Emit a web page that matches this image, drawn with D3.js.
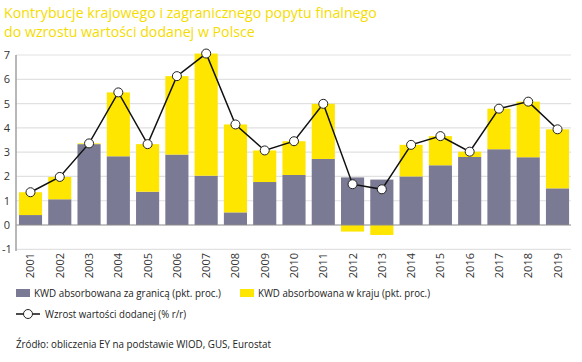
<!DOCTYPE html>
<html>
<head>
<meta charset="utf-8">
<script src="https://cdn.jsdelivr.net/npm/d3@7"></script>
<style>
  body { margin: 0; background: #fff; }
  text { font-family: "Open Sans", sans-serif; }
</style>
</head>
<body>
<script>
// data
var years = ["2001","2002","2003","2004","2005","2006","2007","2008","2009","2010",
             "2011","2012","2013","2014","2015","2016","2017","2018","2019"];
var foreign  = [0.41,1.06,3.33,2.83,1.37,2.90,2.03,0.52,1.77,2.06,2.72,1.96,1.87,2.00,2.46,2.80,3.12,2.79,1.51];
var domestic = [0.94,0.92,0.03,2.63,1.96,3.23,5.03,3.62,1.30,1.39,2.27,-0.27,-0.41,1.30,1.20,0.22,1.67,2.29,2.43];
var growth   = [1.35,1.98,3.36,5.46,3.33,6.13,7.06,4.14,3.07,3.45,4.99,1.68,1.47,3.30,3.66,3.02,4.79,5.08,3.94];
var yTicks = [-1,0,1,2,3,4,5,6,7];

var width = 582, height = 362;
var grey = "#7b7a94", yellow = "#ffe600";

var svg = d3.select("body").append("svg")
    .attr("width", width)
    .attr("height", height);

// helper: text squeezed/stretched to the width seen in the picture
function label(xp, yp, str, size, len, color){
    return svg.append("text").attr("x", xp).attr("y", yp)
        .attr("fill", color).style("font-size", size + "px")
        .attr("textLength", len).attr("lengthAdjust", "spacingAndGlyphs")
        .text(str);
}

// title
svg.append("text").attr("x", 4).attr("y", 18)
    .attr("fill", "#f5dc00").style("font-size", "14.2px")
    .text("Kontrybucje krajowego i zagranicznego popytu finalnego");
svg.append("text").attr("x", 4).attr("y", 37)
    .attr("fill", "#f5dc00").style("font-size", "14.2px")
    .text("do wzrostu wartości dodanej w Polsce");

var x = d3.scaleBand()
    .domain(years)
    .range([16, 572])
    .paddingInner(0.21)
    .paddingOuter(0.1);

var y = d3.scaleLinear()
    .domain([-1, 7])
    .range([249.3, 55]);

// gridlines
svg.append("g").selectAll("line")
    .data(yTicks.filter(function(d){ return d !== 0; }))
    .enter().append("line")
    .attr("x1", 16).attr("x2", 571)
    .attr("y1", function(d){ return y(d); })
    .attr("y2", function(d){ return y(d); })
    .attr("stroke", "#e1e1e1").attr("stroke-width", 1.2);

// y labels
svg.append("g").selectAll("text")
    .data(yTicks)
    .enter().append("text")
    .attr("x", 7)
    .attr("y", function(d){ return y(d) + 4; })
    .attr("text-anchor", "middle")
    .attr("fill", "#333").style("font-size", "11px")
    .text(function(d){ return d; });

// bars - foreign part
svg.append("g").selectAll("rect")
    .data(years)
    .enter().append("rect")
    .attr("x", function(d){ return x(d); })
    .attr("width", x.bandwidth())
    .attr("y", function(d, i){ return y(foreign[i]); })
    .attr("height", function(d, i){ return y(0) - y(foreign[i]); })
    .attr("fill", grey);

// bars - domestic part, stacked on top (or below zero if negative)
svg.append("g").selectAll("rect")
    .data(years)
    .enter().append("rect")
    .attr("x", function(d){ return x(d); })
    .attr("width", x.bandwidth())
    .attr("y", function(d, i){
        return domestic[i] >= 0 ? y(foreign[i] + domestic[i]) : y(0);
    })
    .attr("height", function(d, i){
        return domestic[i] >= 0 ? y(foreign[i]) - y(foreign[i] + domestic[i]) : y(domestic[i]) - y(0);
    })
    .attr("fill", yellow);

// zero line and left axis
svg.append("line")
    .attr("x1", 16).attr("x2", 571)
    .attr("y1", y(0)).attr("y2", y(0))
    .attr("stroke", "#8a8a8a").attr("stroke-width", 1.2);
svg.append("line")
    .attr("x1", 16).attr("x2", 16)
    .attr("y1", y(7)).attr("y2", 251)
    .attr("stroke", "#a0a0a0").attr("stroke-width", 1.5);

// x labels, rotated
svg.append("g").selectAll("text")
    .data(years)
    .enter().append("text")
    .attr("transform", function(d){
        return "translate(" + (x(d) + x.bandwidth()/2 + 4) + ",253) rotate(-90)";
    })
    .attr("text-anchor", "end")
    .attr("fill", "#333").style("font-size", "11px")
    .text(function(d){ return d; });

// growth line
var line = d3.line()
    .x(function(d, i){ return x(years[i]) + x.bandwidth()/2; })
    .y(function(d){ return y(d); });

svg.append("path")
    .datum(growth)
    .attr("d", line)
    .attr("fill", "none")
    .attr("stroke", "#111").attr("stroke-width", 1.5);

svg.append("g").selectAll("circle")
    .data(growth)
    .enter().append("circle")
    .attr("cx", function(d, i){ return x(years[i]) + x.bandwidth()/2; })
    .attr("cy", function(d){ return y(d); })
    .attr("r", 4.5)
    .attr("fill", "#fff")
    .attr("stroke", "#222").attr("stroke-width", 1);

// legend
svg.append("rect").attr("x", 16).attr("y", 289).attr("width", 14).attr("height", 8).attr("fill", grey);
label(34, 297, "KWD absorbowana za granicą (pkt. proc.)", 10.5, 187, "#222");
svg.append("rect").attr("x", 240).attr("y", 289).attr("width", 14).attr("height", 8).attr("fill", yellow);
label(258, 297, "KWD absorbowana w kraju (pkt. proc.)", 10.5, 172, "#222");
svg.append("line").attr("x1", 16).attr("x2", 40).attr("y1", 314).attr("y2", 314)
    .attr("stroke", "#111").attr("stroke-width", 1.5);
svg.append("circle").attr("cx", 28).attr("cy", 314).attr("r", 4.5)
    .attr("fill", "#fff").attr("stroke", "#222");
label(45, 318, "Wzrost wartości dodanej (% r/r)", 10.5, 141, "#222");

// source
label(16, 348, "Źródło: obliczenia EY na podstawie WIOD, GUS, Eurostat", 10.5, 255, "#222");
</script>
</body>
</html>
